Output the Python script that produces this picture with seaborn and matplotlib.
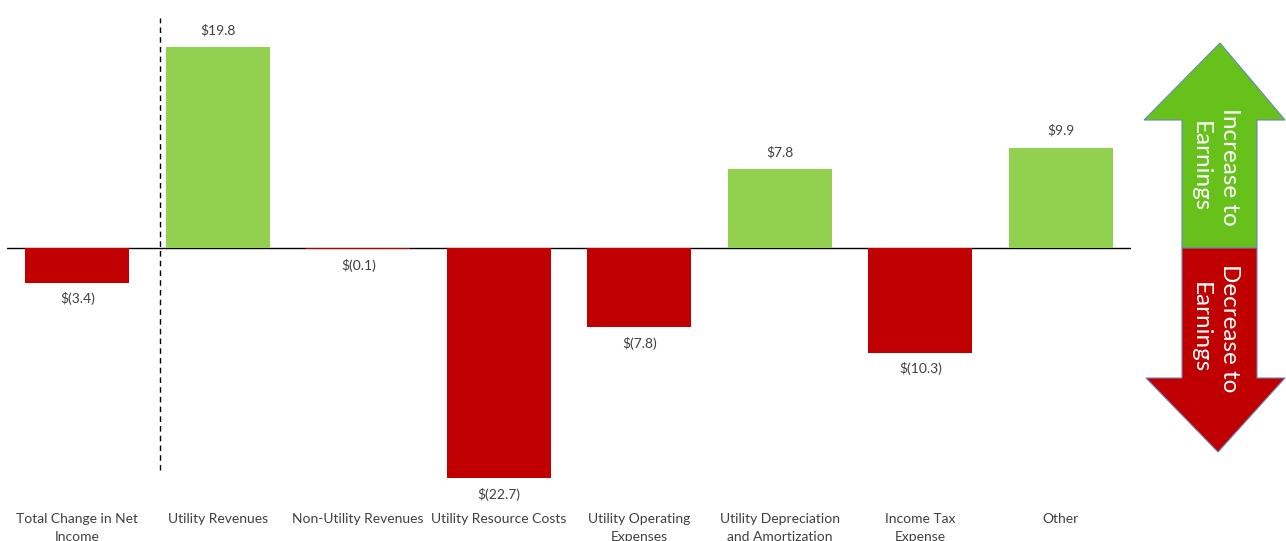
import matplotlib
matplotlib.use("Agg")
import matplotlib.pyplot as plt
from matplotlib.patches import Polygon
import seaborn as sns
import pandas as pd

categories = ["Total Change in Net\nIncome", "Utility Revenues", "Non-Utility Revenues",
              "Utility Resource Costs", "Utility Operating\nExpenses",
              "Utility Depreciation\nand Amortization", "Income Tax\nExpense", "Other"]
values = [-3.4, 19.8, -0.1, -22.7, -7.8, 7.8, -10.3, 9.9]

GREEN = "#92D050"
RED = "#C00000"
TEXT = "#404040"

sns.set_theme(style="white")
plt.rcParams["font.family"] = ["Lato", "DejaVu Sans"]

df = pd.DataFrame({"cat": categories, "val": values,
                   "sign": ["pos" if v >= 0 else "neg" for v in values]})

W, H = 1286, 541
fig = plt.figure(figsize=(W / 100, H / 100), dpi=100)
left, right, top, bottom = 7, 1131, 20, 480
ax = fig.add_axes([left / W, 1 - bottom / H, (right - left) / W, (bottom - top) / H])

sns.barplot(data=df, x="cat", y="val", hue="sign", order=categories,
            hue_order=["pos", "neg"], palette={"pos": GREEN, "neg": RED},
            dodge=False, width=0.74, legend=False, ax=ax, saturation=1,
            edgecolor="none", linewidth=0)

ax.set_xlim(-0.5, len(categories) - 0.5)
ax.set_ylim(-(bottom - 248) / 10.15, (248 - top) / 10.15)
ax.axhline(0, color="black", lw=1, zorder=0.9)
for s in ax.spines.values():
    s.set_visible(False)
ax.set_yticks([])
ax.set_xlabel("")
ax.set_ylabel("")
ax.tick_params(axis="x", length=0, pad=24, labelsize=10, labelcolor=TEXT)
ax.set_xticks(range(len(categories)))
ax.set_xticklabels(categories, linespacing=1.55)

# dashed separator
ax.plot([0.59, 0.59], [(248 - 470) / 10.15, (248 - 18) / 10.15], ls=(0, (4, 3)),
        color="black", lw=1, clip_on=False)

for i, v in enumerate(values):
    lab = f"${v:.1f}" if v >= 0 else f"$({-v:.1f})"
    off = 17 if v >= 0 else -16
    ax.annotate(lab, (i, v), xytext=(0, off), textcoords="offset pixels",
                ha="center", va="center", fontsize=10, color=TEXT)

# arrows on the right
ov = fig.add_axes([0, 0, 1, 1])
ov.set_xlim(0, W)
ov.set_ylim(H, 0)
ov.axis("off")
ov.patch.set_alpha(0)
edge = "#6A86B8"
up = [(1220, 43), (1285, 120), (1257, 120), (1257, 248), (1182, 248), (1182, 120), (1144, 120)]
down = [(1182, 248), (1257, 248), (1257, 378), (1285, 378), (1218, 452), (1146, 378), (1182, 378)]
ov.add_patch(Polygon(up, closed=True, facecolor="#66C21A", edgecolor=edge, lw=0.8))
ov.add_patch(Polygon(down, closed=True, facecolor=RED, edgecolor=edge, lw=0.8))
ov.text(1215, 167, "Increase to\nEarnings", rotation=-90, ha="center", va="center",
        color="white", fontsize=17.5, linespacing=1.45)
ov.text(1215, 328, "Decrease to\nEarnings", rotation=-90, ha="center", va="center",
        color="white", fontsize=17.5, linespacing=1.45)

fig.savefig("out.png", dpi=100)
